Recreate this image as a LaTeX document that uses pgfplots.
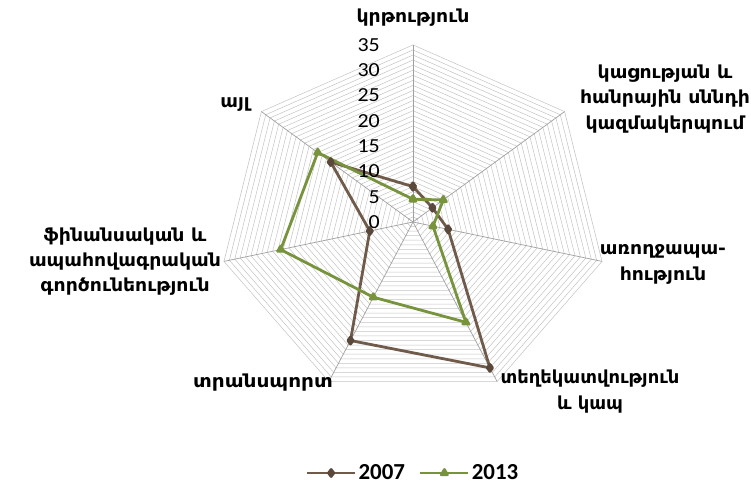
\documentclass[border=0pt]{standalone}
\usepackage{fontspec}
\usepackage{graphicx}
\usepackage{pgfplots}
\pgfplotsset{compat=1.18}
\setmainfont{DejaVu Sans}
\newfontfamily\numfont{Carlito}
\definecolor{cA}{RGB}{112,90,74}
\definecolor{cB}{RGB}{119,147,60}
\definecolor{gridc}{RGB}{195,195,195}
\definecolor{spokec}{RGB}{160,160,160}
\newcommand\lab{\bfseries\fontsize{18}{26}\selectfont}
\newcommand\sx[1]{\scalebox{1.05}[1]{#1}}
\begin{document}
\begin{tikzpicture}[x=1bp,y=1bp]
\begin{axis}[at={(0,0)}, anchor=origin, x=5.54bp, y=5.06bp,
  xmin=-36, xmax=36, ymin=-36, ymax=36, hide axis, clip=false,
  data cs=polar,
  legend columns=2,
  legend style={at={(0.5,-0.189)}, anchor=center, draw=none, fill=none,
    font=\numfont\bfseries\fontsize{23}{26}\selectfont,
    /tikz/every even column/.append style={column sep=12bp}},
  legend image code/.code={\draw[mark repeat=2,mark phase=2,#1] plot coordinates {(0bp,0bp) (24bp,0bp) (48bp,0bp)};},
]
\pgfplotsinvokeforeach{1,...,35}{
\addplot[gridc, line width=0.5bp, forget plot, mark=none] coordinates {(90,#1) (38.571,#1) (-12.857,#1) (-64.286,#1) (-115.714,#1) (-167.143,#1) (141.429,#1) (90,#1)};
}
\pgfplotsinvokeforeach{90,38.571,-12.857,-64.286,-115.714,-167.143,141.429}{
\addplot[spokec, line width=0.7bp, forget plot, mark=none] coordinates {(#1,0) (#1,35)};
}
\addplot[cA, line width=2.8bp, line join=round, mark=diamond*, mark size=3.5bp, mark options={solid, fill=cA!80!black, draw=cA!80!black}] coordinates {(90,7) (38.571,4.5) (-12.857,6.5) (-64.286,32) (-115.714,26) (-167.143,8) (141.429,19) (90,7)};
\addlegendentry{2007}
\addplot[cB, line width=2.8bp, line join=round, mark=triangle*, mark size=3.5bp, mark options={solid, fill=cB, draw=cB}] coordinates {(90,4.5) (38.571,7) (-12.857,3.7) (-64.286,22) (-115.714,16.5) (-167.143,24.5) (141.429,22) (90,4.5)};
\addlegendentry{2013}
\end{axis}
% tick labels
\foreach \v in {0,5,...,35}{
  \node[anchor=east, inner sep=0pt, font=\numfont\fontsize{20}{22}\selectfont] at (-33bp, {\v*5.06bp}) {\scalebox{1.1}[1]{\v}};
}
\node[font=\lab, align=center] at (0bp,204bp) {\sx{կրթություն}};
\node[font=\lab, align=center] at (252bp,123bp) {\sx{կացության և}\\\sx{հանրային սննդի}\\\sx{կազմակերպում}};
\node[font=\lab, align=center] at (250bp,-42bp) {\sx{առողջապա-}\\\sx{հություն}};
\node[font=\lab, align=center] at (177bp,-170bp) {տեղեկատվություն\\և կապ};
\node[font=\lab, align=center] at (-150bp,-161bp) {\scalebox{1.12}[1]{տրանսպորտ}};
\node[font=\lab, align=center, font=\bfseries\fontsize{18}{25}\selectfont] at (-288bp,-40bp) {\sx{ֆինանսական և}\\\sx{ապահովագրական}\\\sx{գործունեություն}};
\node[font=\lab, align=center] at (-178bp,117bp) {\sx{այլ}};
\pgfresetboundingbox
\path[use as bounding box] (-413bp,-265bp) rectangle (338bp,222bp);
\end{tikzpicture}
\end{document}
